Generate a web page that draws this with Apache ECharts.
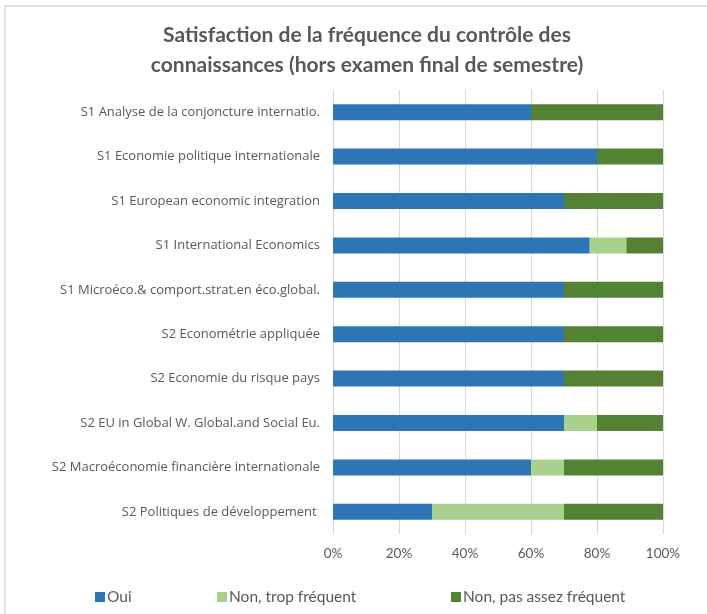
<!DOCTYPE html>
<html>
<head>
<meta charset="utf-8">
<script src="https://cdn.jsdelivr.net/npm/echarts@6/dist/echarts.min.js"></script>
<style>
    html, body {margin: 0; padding: 0; background: #fff;}
    #chart {width: 707px; height: 614px;}
</style>
</head>
<body>
<div id="chart"></div>
<script>
// données (cours, de haut en bas)
var courses = [
    'S1 Analyse de la conjoncture internatio.',
    'S1 Economie politique internationale',
    'S1 European economic integration',
    'S1 International Economics',
    'S1 Microéco.& comport.strat.en éco.global.',
    'S2 Econométrie appliquée',
    'S2 Economie du risque pays',
    'S2 EU in Global W. Global.and Social Eu.',
    'S2 Macroéconomie financière internationale',
    'S2 Politiques de développement '
];
var oui = [60, 80, 70, 77.8, 70, 70, 70, 70, 60, 30];
var tropFrequent = [0, 0, 0, 11.1, 0, 0, 0, 10, 10, 40];
var pasAssezFrequent = [40, 20, 30, 11.1, 30, 30, 30, 20, 30, 30];
var xTicks = ['0%', '20%', '40%', '60%', '80%', '100%'];

var seriesNames = ['Oui', 'Non, trop fréquent', 'Non, pas assez fréquent'];
var colors = ['#2e75b6', '#a9d18e', '#548235'];
var font = 'Lato';
var grey = '#595959';

var myChart = echarts.init(document.getElementById('chart'));

function legendAt(name, left) {
    return {
        data: [name],
        left: left,
        top: 584,
        icon: 'rect',
        itemWidth: 10,
        itemHeight: 10,
        itemGap: 0,
        textStyle: {color: grey, fontFamily: font, fontSize: 15.5, padding: [0, 0, 0, -3]}
    };
}

var option = {
    animation: false,
    color: colors,
    title: {
        text: 'Satisfaction de la fréquence du contrôle des\nconnaissances (hors examen final de semestre)',
        left: 362,
        textAlign: 'center',
        top: 15,
        textStyle: {
            color: grey,
            fontFamily: font,
            fontSize: 21,
            fontWeight: 'bold',
            lineHeight: 30
        }
    },
    graphic: [{
        type: 'rect',
        shape: {x: 5, y: 6, width: 720, height: 640},
        style: {fill: 'none', stroke: '#d9d9d9', lineWidth: 1.5},
        silent: true
    }],
    legend: [
        legendAt(seriesNames[0], 90),
        legendAt(seriesNames[1], 212),
        legendAt(seriesNames[2], 446)
    ],
    grid: {left: 333, right: 44, top: 90, bottom: 80},
    xAxis: {
        type: 'value',
        min: 0,
        max: 100,
        interval: 20,
        axisLine: {show: false},
        axisTick: {show: false},
        splitLine: {lineStyle: {color: '#d9d9d9', width: 1}},
        axisLabel: {
            color: grey,
            fontFamily: font,
            fontSize: 13.5,
            margin: 13,
            formatter: function (v) {
                return xTicks[Math.round(v / 20)];
            }
        }
    },
    yAxis: {
        type: 'category',
        inverse: true,
        data: courses,
        axisLine: {show: false},
        axisTick: {show: false},
        axisLabel: {color: grey, fontFamily: 'Open Sans', fontSize: 13, margin: 13}
    },
    series: [
        {name: seriesNames[0], type: 'bar', stack: 'total', barWidth: 16, data: oui},
        {name: seriesNames[1], type: 'bar', stack: 'total', barWidth: 16, data: tropFrequent},
        {name: seriesNames[2], type: 'bar', stack: 'total', barWidth: 16, data: pasAssezFrequent}
    ]
};
myChart.setOption(option);
</script>
</body>
</html>
